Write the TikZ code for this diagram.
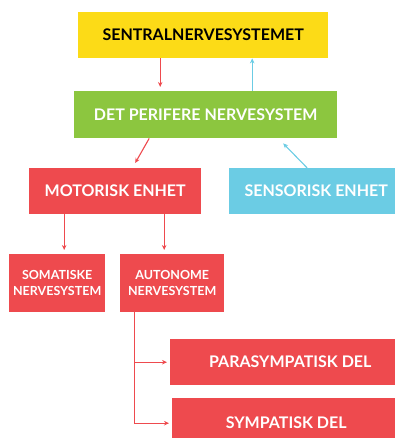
\documentclass[tikz,border=0pt]{standalone}
\usepackage{fontspec}
\setmainfont{Lato}
\usepackage{tikz}
\usetikzlibrary{arrows.meta,calc,positioning}
\definecolor{gul}{HTML}{FCDB17}
\definecolor{gronn}{HTML}{8CC63F}
\definecolor{rod}{HTML}{EE4A4E}
\definecolor{bla}{HTML}{6BCCE4}
\tikzset{
  boks/.style={anchor=north west, inner sep=0pt, align=center, text=white,
    font=\bfseries\fontsize{16}{18}\selectfont},
  liten/.style={boks, font=\bfseries\fontsize{12.5}{16}\selectfont},
  rodpil/.style={draw=rod, line width=1.1pt, -{Stealth[length=5pt,width=4.5pt]}},
  blapil/.style={draw=bla, line width=1.1pt, -{Stealth[length=5pt,width=4.5pt]}}
}

\begin{document}
\begin{tikzpicture}[x=1pt,y=-1pt]
\useasboundingbox (0,0) rectangle (395,438);
%Bokser, alt i piksler fra oppe til venstre
\node[boks, fill=gul, text=black, minimum width=250pt, minimum height=46pt] (sentral) at (78,12) {SENTRALNERVESYSTEMET};
\node[boks, fill=gronn, minimum width=263pt, minimum height=47pt] (perifer) at (74,91) {DET PERIFERE NERVESYSTEM};
\node[boks, fill=rod, minimum width=172pt, minimum height=46pt] (motorisk) at (29,168) {MOTORISK ENHET};
\node[boks, fill=bla, minimum width=174pt, minimum height=46pt] (sensorisk) at (229,168) {SENSORISK ENHET};
\node[liten, fill=rod, minimum width=96pt, minimum height=58pt] (somatiske) at (9,254) {SOMATISKE\\NERVESYSTEM};
\node[liten, fill=rod, minimum width=104pt, minimum height=58pt] (autonome) at (120,254) {AUTONOME\\NERVESYSTEM};
\node[boks, fill=rod, minimum width=240pt, minimum height=46pt] (para) at (170,339) {PARASYMPATISK DEL};
\node[boks, fill=rod, minimum width=228pt, minimum height=50pt] (sympatisk) at (172,398) {SYMPATISK DEL};
%Piler
\coordinate (ned) at ($(sentral.south)+(-43,0)$);
\coordinate (opp) at ($(sentral.south)+(49,0)$);
\draw[rodpil, shorten >=4pt] (ned) -- (ned |- perifer.north);
\draw[blapil] (opp |- perifer.north) -- (opp);
\draw[rodpil] ($(perifer.south)+(-56.5,0)$) -- ($(motorisk.north)+(20,-5)$);
\draw[blapil] ($(sensorisk.north)+(-9,0)$) -- ($(perifer.south)+(77.5,5)$);
\coordinate (m1) at ($(motorisk.south)+(-51,0)$);
\coordinate (m2) at ($(motorisk.south)+(49,0)$);
\draw[rodpil, shorten >=4pt] (m1) -- (m1 |- somatiske.north);
\draw[rodpil, shorten >=4pt] (m2) -- (m2 |- autonome.north);
\coordinate (a1) at ($(autonome.south)+(-38,0)$);
\draw[rodpil, shorten >=3pt] (a1) |- (para.west);
\draw[rodpil, shorten >=3pt] (a1) |- (sympatisk.west);
\end{tikzpicture}
\end{document}
